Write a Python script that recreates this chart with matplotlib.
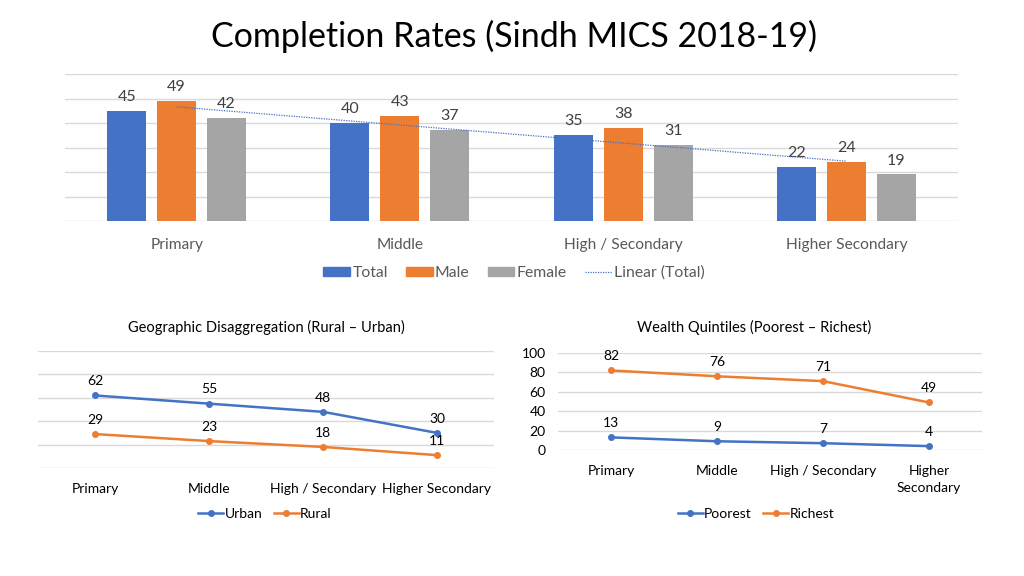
import numpy as np
import matplotlib
matplotlib.use("Agg")
import matplotlib.pyplot as plt
from matplotlib.patches import Patch
from matplotlib.lines import Line2D

# ---- data ----
levels = ["Primary", "Middle", "High / Secondary", "Higher Secondary"]
total = [45, 40, 35, 22]
male = [49, 43, 38, 24]
female = [42, 37, 31, 19]

urban = [62, 55, 48, 30]
rural = [29, 23, 18, 11]

levels_wealth = ["Primary", "Middle", "High / Secondary", "Higher\nSecondary"]
poorest = [13, 9, 7, 4]
richest = [82, 76, 71, 49]

BLUE = "#4472C4"
ORANGE = "#ED7D31"
GREY = "#A5A5A5"
GRID = "#D9D9D9"
LBL = "#404040"
AX = "#595959"

plt.rcParams['font.family'] = ['Lato', 'DejaVu Sans']

W, H = 1024, 576
fig = plt.figure(figsize=(W / 100, H / 100), dpi=100)


def px_axes(x0, y0, x1, y1):
    return fig.add_axes([x0 / W, 1 - y1 / H, (x1 - x0) / W, (y1 - y0) / H])


def fx(x):
    return x / W


def fy(y):
    return 1 - y / H


def style(ax):
    for s in ax.spines.values():
        s.set_visible(False)
    ax.tick_params(length=0)
    ax.grid(axis='y', color=GRID, linewidth=1)
    ax.set_axisbelow(True)


# ---- title ----
fig.text(fx(514), fy(36), "Completion Rates (Sindh MICS 2018-19)", ha='center', va='center',
         fontsize=24.5, color='black')

# ---- top bar chart ----
ax = px_axes(65, 74, 958, 221)
style(ax)
x = np.arange(len(levels))
bw = 0.175
pitch = 0.224
for vals, off, col in [(total, -pitch, BLUE), (male, 0, ORANGE), (female, pitch, GREY)]:
    bars = ax.bar(x + off, vals, width=bw, color=col, zorder=2)
    for b, v in zip(bars, vals):
        ax.annotate(str(v), (b.get_x() + b.get_width() / 2, v), xytext=(0, 5),
                    textcoords='offset points', ha='center', va='bottom',
                    fontsize=11.5, color=LBL)
coef = np.polyfit(x, total, 1)
ax.plot(x, np.polyval(coef, x), linestyle=(0, (1, 1)), color=BLUE, linewidth=0.9, zorder=3)
ax.set_xlim(-0.5, 3.5)
ax.set_ylim(0, 60)
ax.set_yticks(np.arange(0, 61, 10))
ax.set_yticklabels([])
ax.set_xticks(x)
ax.set_xticklabels(levels, fontsize=11.2, color=AX)
ax.tick_params(axis='x', pad=12)

handles = [Patch(color=BLUE, label="Total"), Patch(color=ORANGE, label="Male"),
           Patch(color=GREY, label="Female"),
           Line2D([], [], color=BLUE, linestyle=(0, (1, 1)), linewidth=0.9, label="Linear (Total)")]
leg = fig.legend(handles=handles, loc='center', bbox_to_anchor=(fx(514), fy(273)), ncol=4,
                 frameon=False, fontsize=11.3, handlelength=1.7, handleheight=0.45,
                 handletextpad=0.15, columnspacing=1.15)
for t in leg.get_texts():
    t.set_color(AX)


def line_chart(ax, cats, series, ylabels):
    style(ax)
    xx = np.arange(len(cats))
    for vals, col, name in series:
        ax.plot(xx, vals, color=col, linewidth=1.8, marker='o', markersize=4, label=name)
        for xi, v in zip(xx, vals):
            ax.annotate(str(v), (xi, v), xytext=(0, 6), textcoords='offset points',
                        ha='center', va='bottom', fontsize=10, color='black')
    ax.set_xlim(-0.5, 3.5)
    ax.set_ylim(0, 100)
    ax.set_yticks(np.arange(0, 101, 20))
    if not ylabels:
        ax.set_yticklabels([])
    else:
        ax.tick_params(axis='y', labelsize=10, labelcolor='black', pad=9)
    ax.set_xticks(xx)
    ax.set_xticklabels(cats, fontsize=10, color='black', linespacing=1.45)
    ax.tick_params(axis='x', pad=11)


# ---- bottom left ----
ax2 = px_axes(38, 351, 494, 468)
line_chart(ax2, levels, [(urban, BLUE, "Urban"), (rural, ORANGE, "Rural")], False)
fig.text(fx(266), fy(327), "Geographic Disaggregation (Rural \u2013 Urban)", ha='center', va='center',
         fontsize=10.5, color='black')
l2 = fig.legend(handles=ax2.get_lines(), loc='center', bbox_to_anchor=(fx(265), fy(514)), ncol=2,
                frameon=False, fontsize=10, handlelength=1.8, handletextpad=0.1, columnspacing=0.8)

# ---- bottom right ----
ax3 = px_axes(558, 353, 982, 450)
line_chart(ax3, levels_wealth, [(poorest, BLUE, "Poorest"), (richest, ORANGE, "Richest")], True)
fig.text(fx(754), fy(327), "Wealth Quintiles (Poorest \u2013 Richest)", ha='center', va='center',
         fontsize=10.5, color='black')
l3 = fig.legend(handles=ax3.get_lines(), loc='center', bbox_to_anchor=(fx(756), fy(514)), ncol=2,
                frameon=False, fontsize=10, handlelength=1.8, handletextpad=0.1, columnspacing=0.8)

fig.savefig("out.png", dpi=100)
